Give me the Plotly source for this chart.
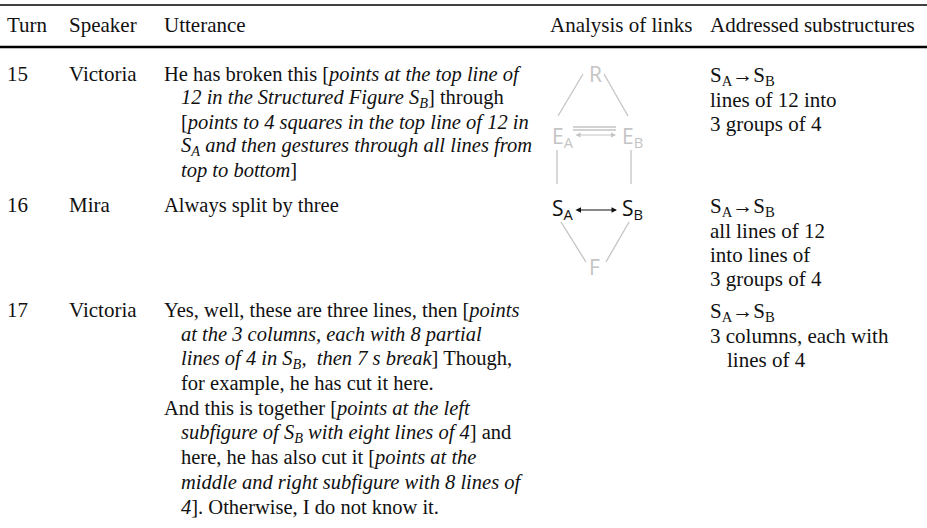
import plotly.graph_objects as go

# ---------------- data ----------------
headers = ["Turn", "Speaker", "Utterance", "Analysis of links", "Addressed substructures"]
turns = ["15", "16", "17"]
speakers = ["Victoria", "Mira", "Victoria"]

utterance_15 = [
    "He has broken this [<i>points at the top line of</i>",
    "<i>12 in the Structured Figure S<sub>B</sub></i>] through",
    "[<i>points to 4 squares in the top line of 12 in</i>",
    "<i>S<sub>A</sub> and then gestures through all lines from</i>",
    "<i>top to bottom</i>]",
]
utterance_16 = ["Always split by three"]
utterance_17 = [
    "Yes, well, these are three lines, then [<i>points</i>",
    "<i>at the 3 columns, each with 8 partial</i>",
    "<i>lines of 4 in S<sub>B</sub>,  then 7 s break</i>] Though,",
    "for example, he has cut it here.",
    "And this is together [<i>points at the left</i>",
    "<i>subfigure of S<sub>B</sub> with eight lines of 4</i>] and",
    "here, he has also cut it [<i>points at the</i>",
    "<i>middle and right subfigure with 8 lines of</i>",
    "<i>4</i>]. Otherwise, I do not know it.",
]
utterance_indent_15 = [0, 1, 1, 1, 1]
utterance_indent_16 = [0]
utterance_indent_17 = [0, 1, 1, 1, 0, 1, 1, 1, 1]

subs_15 = ["S<sub>A</sub>\u2192S<sub>B</sub>", "lines of 12 into", "3 groups of 4"]
subs_16 = ["S<sub>A</sub>\u2192S<sub>B</sub>", "all lines of 12", "into lines of", "3 groups of 4"]
subs_17 = ["S<sub>A</sub>\u2192S<sub>B</sub>", "3 columns, each with", "lines of 4"]
subs_indent_17 = [0, 0, 1]

# diagram nodes (analysis of links)
node_labels = ["R", "E<sub>A</sub>", "E<sub>B</sub>", "S<sub>A</sub>", "S<sub>B</sub>", "F"]
node_active = [False, False, False, True, True, False]

# ---------------- layout constants ----------------
W, H = 927, 528
SERIF = "Liberation Serif, Times New Roman, serif"
SANS = "Open Sans, Noto Sans, sans-serif"
FS = 21
FS_UTT = 20.5
BLACK = "#111111"
GREY = "#c4c4c4"

col_x = [6, 68, 163, 549, 709]
indent = 17
header_y = 25
row_y = [74, 205, 310]
row_line = [24.0, 24.0, 24.6]
sub_y = [76, 207, 312]
sub_line = 24.0

fig = go.Figure()
ann = []
shapes = []

def text(x, y, s, size=FS, color=BLACK, font=SERIF, xanchor="left"):
    ann.append(dict(x=x, y=y, xref="x", yref="y", text=s, showarrow=False,
                    xanchor=xanchor, yanchor="middle", borderpad=0,
                    font=dict(family=font, size=size, color=color)))

# rules
shapes.append(dict(type="line", x0=0, x1=W, y0=5, y1=5, xref="x", yref="y",
                   line=dict(color="black", width=1.4)))
shapes.append(dict(type="line", x0=0, x1=W, y0=47, y1=47, xref="x", yref="y",
                   line=dict(color="black", width=2.4)))

for h, x in zip(headers, col_x):
    text(x, header_y, h)

utts = [utterance_15, utterance_16, utterance_17]
uind = [utterance_indent_15, utterance_indent_16, utterance_indent_17]
subs = [subs_15, subs_16, subs_17]
sind = [[0] * len(subs_15), [0] * len(subs_16), subs_indent_17]

for r in range(3):
    y0 = row_y[r]
    text(col_x[0], y0, turns[r])
    text(col_x[1], y0, speakers[r])
    for i, (ln, ind) in enumerate(zip(utts[r], uind[r])):
        text(col_x[2] + ind * indent, y0 + i * row_line[r], ln, size=FS_UTT)
    for i, (ln, ind) in enumerate(zip(subs[r], sind[r])):
        text(col_x[4] + ind * indent, sub_y[r] + i * sub_line, ln)

# ---------------- diagram ----------------
node_pos = [(595, 74), (563, 137), (632, 137), (563, 209), (632, 209), (594, 267)]
for lab, act, (x, y) in zip(node_labels, node_active, node_pos):
    text(x, y, lab, size=21, color=BLACK if act else GREY, font=SANS, xanchor="center")

def seg(x0, y0, x1, y1, color=GREY, width=1.3):
    shapes.append(dict(type="line", x0=x0, y0=y0, x1=x1, y1=y1, xref="x", yref="y",
                       line=dict(color=color, width=width)))

seg(583, 74, 558, 116)
seg(604, 74, 628, 116)
seg(557, 150, 557, 184)
seg(631, 150, 631, 184)
seg(561, 222, 586, 262)
seg(629, 222, 606, 262)
seg(573, 127, 616, 127)
seg(573, 130, 616, 130)

def dbl_arrow(x0, x1, y, color, width, size):
    ann.append(dict(x=x1, y=y, ax=x0, ay=y, xref="x", yref="y", axref="x", ayref="y",
                    text="", showarrow=True, arrowhead=2, startarrowhead=2,
                    arrowside="end+start", arrowsize=size, startarrowsize=size,
                    arrowwidth=width, arrowcolor=color))

dbl_arrow(574, 616, 135, GREY, 1.0, 1.0)
dbl_arrow(574, 617, 210, BLACK, 1.1, 1.0)

fig.update_layout(
    width=W, height=H,
    margin=dict(l=0, r=0, t=0, b=0),
    paper_bgcolor="white", plot_bgcolor="white",
    xaxis=dict(range=[0, W], visible=False, fixedrange=True),
    yaxis=dict(range=[H, 0], visible=False, fixedrange=True),
    annotations=ann, shapes=shapes, showlegend=False,
)
fig.write_html("out.html", config={"displayModeBar": False},
               post_script="document.body.style.margin='0';document.body.style.overflow='hidden';")
